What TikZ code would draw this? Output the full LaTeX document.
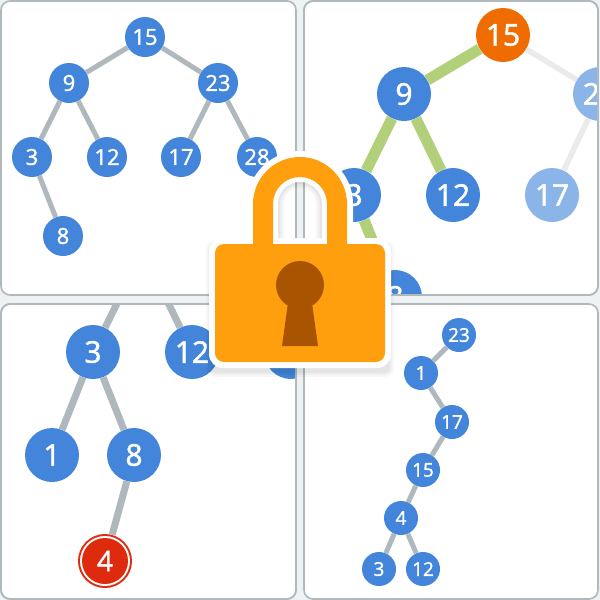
\documentclass[tikz,border=0pt]{standalone}
\usepackage{fontspec}
\setmainfont{Open Sans}[RawFeature={embolden=1.6}]
\definecolor{bgc}{HTML}{EEF2F3}
\definecolor{framec}{HTML}{AEB8BD}
\definecolor{edgec}{HTML}{AEB8BD}
\definecolor{bluec}{HTML}{4285DA}
\definecolor{palec}{HTML}{8BB4E8}
\definecolor{paleedge}{HTML}{EBEBEB}
\definecolor{greenc}{HTML}{B2D07A}
\definecolor{orangec}{HTML}{EE6C00}
\definecolor{redc}{HTML}{DE2A0D}
\definecolor{lockc}{HTML}{FF9F0E}
\definecolor{holec}{HTML}{A85400}
\tikzset{
  x=1pt,y=-1pt,
  panel/.style={draw=framec,line width=1.6pt,fill=white,rounded corners=9pt},
  big/.style={circle,minimum size=54pt,inner sep=0pt,fill=bluec,text=white,font=\fontsize{30}{30}\selectfont},
  mid/.style={circle,minimum size=40pt,inner sep=0pt,fill=bluec,text=white,font=\fontsize{22}{22}\selectfont},
  small/.style={circle,minimum size=34pt,inner sep=0pt,fill=bluec,text=white,font=\fontsize{19}{19}\selectfont},
  edgeS/.style={draw=edgec,line width=5pt},
  edgeB/.style={draw=edgec,line width=7pt},
  edgeG/.style={draw=greenc,line width=11pt},
  edgeP/.style={draw=paleedge,line width=5.5pt},
}
\begin{document}
\begin{tikzpicture}
\useasboundingbox (0,0) rectangle (600,600);
\fill[bgc] (0,0) rectangle (600,600);
% top-left
\draw[panel] (1,1) rectangle (296,295);
\node[mid] (a15) at (145,37) {15};
\node[mid] (a9) at (69,83) {9};
\node[mid] (a23) at (218,83) {23};
\node[mid] (a3) at (32,157) {3};
\node[mid] (a12) at (107,157) {12};
\node[mid] (a17) at (181,157) {17};
\node[mid] (a28) at (257,157) {28};
\node[mid] (a8) at (63,236) {8};
\draw[edgeS] (a15) -- (a9);
\draw[edgeS] (a15) -- (a23);
\draw[edgeS] (a9) -- (a3);
\draw[edgeS] (a9) -- (a12);
\draw[edgeS] (a23) -- (a17);
\draw[edgeS] (a23) -- (a28);
\draw[edgeS] (a3) -- (a8);
% top-right
\draw[panel] (304,1) rectangle (598,295);
\begin{scope}
\clip[rounded corners=9pt] (304,1) rectangle (598,295);
\node[big,fill=orangec] (b15) at (503,35) {15};
\node[big] (b9) at (404,94) {9};
\node[big,fill=palec] (b23) at (600,94) {23};
\node[big] (b3) at (354,195) {3};
\node[big] (b12) at (453,195) {12};
\node[big,fill=palec] (b17) at (552,195) {17};
\node[big] (b8) at (395,297) {8};
\draw[edgeG] (b15) -- (b9);
\draw[edgeG] (b9) -- (b3);
\draw[edgeG] (b9) -- (b12);
\draw[edgeG] (b3) -- (b8);
\draw[edgeP] (b15) -- (b23);
\draw[edgeP] (b23) -- (b17);
\end{scope}
\draw[draw=framec,line width=1.6pt,rounded corners=9pt] (304,1) rectangle (598,295);
% bottom-left
\draw[panel] (1,304) rectangle (296,599);
\begin{scope}
\clip[rounded corners=9pt] (1,304) rectangle (296,599);
\coordinate (c9) at (143,251);
\node[big] (c3) at (93,352) {3};
\node[big] (c12) at (192,352) {12};
\node[big] (c28) at (291,352) {};
\node[big] (c1) at (52,455) {1};
\node[big] (c8) at (134,455) {8};
\node[circle,minimum size=54pt,inner sep=0pt,fill=redc] (c4o) at (105,561) {};
\node[circle,minimum size=50pt,inner sep=0pt,fill=white] (c4w) at (105,561) {};
\node[big,minimum size=46pt,fill=redc,font=\fontsize{28}{28}\selectfont] (c4) at (105,561) {4};
\draw[edgeB] (c9) -- (c3);
\draw[edgeB] (c9) -- (c12);
\draw[edgeB] (c3) -- (c1);
\draw[edgeB] (c3) -- (c8);
\draw[edgeB] (c8) -- (c4o);
\end{scope}
\draw[draw=framec,line width=1.6pt,rounded corners=9pt] (1,304) rectangle (296,599);
% bottom-right
\draw[panel] (304,304) rectangle (598,599);
\node[small] (d23) at (459,335) {23};
\node[small] (d1) at (421,373) {1};
\node[small] (d17) at (452,422) {17};
\node[small] (d15) at (423,470) {15};
\node[small] (d4) at (401,518) {4};
\node[small] (d3) at (379,569) {3};
\node[small] (d12) at (423,569) {12};
\draw[edgeS] (d23) -- (d1);
\draw[edgeS] (d1) -- (d17);
\draw[edgeS] (d17) -- (d15);
\draw[edgeS] (d15) -- (d4);
\draw[edgeS] (d4) -- (d3);
\draw[edgeS] (d4) -- (d12);
% lock shadow
\foreach \w/\o in {18/0.03,14/0.03,10/0.04}{
  \draw[black,opacity=\o,line width=\w pt,line join=round] (215,250) rectangle (385,368);
}
% lock white rim
\fill[white,even odd rule]
  (247,244) -- (247,204) arc[start angle=180,end angle=0,x radius=53,y radius=-53] -- (353,244) -- cycle
  (278,238) -- (278,204) arc[start angle=180,end angle=0,x radius=22,y radius=-22] -- (322,238) -- (322,244) -- (278,244) -- cycle;
\fill[white,rounded corners=14pt] (209,238) rectangle (391,368);
% panel gap seen through the shackle opening, with its shadow
\begin{scope}
\clip (278,238) -- (278,204) arc[start angle=180,end angle=0,x radius=22,y radius=-22] -- (322,238) -- cycle;
\fill[white] (270,170) rectangle (330,240);
\fill[bgc] (296,170) rectangle (304,240);
\draw[framec,line width=1.6pt] (296,170) -- (296,240);
\draw[framec,line width=1.6pt] (304,170) -- (304,240);
\foreach \w/\o in {12/0.03,8/0.03,4/0.04}{
  \draw[black,opacity=\o,line width=\w pt] (278,240) -- (278,204) arc[start angle=180,end angle=0,x radius=22,y radius=-22] -- (322,240);
}
\end{scope}
% lock body
\fill[lockc,even odd rule]
  (253,250) -- (253,204) arc[start angle=180,end angle=0,x radius=47,y radius=-47] -- (347,250) -- cycle
  (273,250) -- (273,204) arc[start angle=180,end angle=0,x radius=27,y radius=-27] -- (327,250) -- cycle;
\fill[lockc,rounded corners=9pt] (215,244) rectangle (385,362);
\fill[holec] (300,285) circle[radius=24];
\fill[holec] (288,303) -- (312,303) -- (318,346) -- (282,346) -- cycle;
\end{tikzpicture}
\end{document}
